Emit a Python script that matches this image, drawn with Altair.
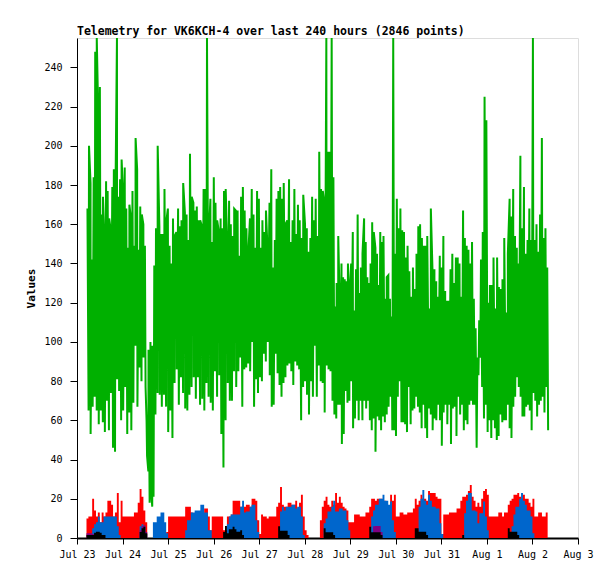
import altair as alt
import pandas as pd

title_text = "Telemetry for VK6KCH-4 over last 240 hours (2846 points)"
day_labels = ["Jul 23", "Jul 24", "Jul 25", "Jul 26", "Jul 27", "Jul 28",
              "Jul 29", "Jul 30", "Jul 31", "Aug 1", "Aug 2", "Aug 3"]
day_hours = [0, 24, 48, 72, 96, 120, 144, 168, 192, 216, 240, 264]
y_ticks = [0, 20, 40, 60, 80, 100, 120, 140, 160, 180, 200, 220, 240]

# ---- green series: peaks and troughs read per segment (hours since Jul 23 00:00)
green_segment_hours = [(5.3, 36.4), (36.4, 40.5), (40.5, 85.3),
                       (85.3, 134.9), (134.9, 166.4), (166.4, 248.5)]
green_hi_a = [168, 200, 181, 142, 184, 248, 255, 214, 230, 165, 174, 149, 182, 177, 163, 157, 179, 188, 172, 255,
              174, 183, 193, 174, 189, 168, 148, 170, 163, 177, 149, 204, 188, 147, 169, 165, 160, 149]
green_lo_a = [65, 53, 67, 72, 65, 58, 65, 59, 54, 70, 55, 74, 46, 44, 81, 75, 60, 65, 77, 53,
              64, 55, 69, 98, 67, 87, 80, 92, 77]
green_hi_dip = [60, 96, 100, 98]
green_lo_dip = [42, 34, 18, 25, 16, 21]
green_hi_b = [139, 158, 200, 159, 155, 155, 178, 161, 168, 149, 140, 163, 154, 156, 168, 159, 162, 181, 166, 165,
              152, 196, 174, 171, 167, 169, 162, 162, 159, 178, 178, 255, 152, 173, 151, 184, 171, 162, 156, 163,
              158, 177, 178, 146, 172, 160, 154, 168, 167, 167]
green_lo_b = [63, 74, 73, 67, 73, 67, 54, 65, 51, 79, 86, 68, 82, 74, 66, 65, 73, 77, 82, 71,
              82, 68, 71, 65, 79, 72, 69, 65, 85, 72, 83, 53, 36, 60, 79, 70, 70, 85, 77, 85]
green_hi_c1 = [144, 174, 179, 167, 158, 144, 163, 178, 165, 148, 177, 173, 148, 162, 156, 167, 145, 171, 188, 138,
               152, 173, 177, 179, 173, 181, 160, 162, 183, 151, 162, 178, 155, 170, 162, 153, 175, 160, 158, 146,
               153, 174, 162, 173, 154, 197, 178, 177, 170, 255, 197, 197, 255]
green_lo_c1 = [92, 67, 86, 87, 89, 85, 100, 67, 81, 74, 82, 80, 94, 90, 100, 83, 67, 68, 94, 84,
               78, 72, 79, 82, 88, 89, 85, 78, 90, 88, 86, 60, 77, 80, 73, 63, 80, 72, 98, 72,
               88, 80, 79, 64, 88, 86, 85, 70]
green_hi_c2 = [184, 118, 130, 154, 115, 140, 133, 132, 131, 140, 127, 140, 156, 116, 137, 165, 125, 138, 145, 163,
               151, 133, 130, 140, 161, 156, 148, 145, 129, 156, 151, 154, 122, 133, 134, 122, 113]
green_lo_c2 = [63, 61, 68, 68, 48, 53, 75, 69, 70, 80, 56, 61, 70, 60, 70, 60, 70, 66, 70, 60,
               55, 61, 44, 62, 60, 55, 62, 59, 63, 67, 72, 55]
green_hi_d = [255, 145, 173, 158, 168, 157, 156, 143, 149, 136, 123, 138, 127, 145, 159, 160, 153, 149, 149, 154,
              117, 168, 134, 137, 131, 123, 144, 138, 154, 126, 121, 121, 137, 145, 130, 143, 143, 140, 123, 167,
              153, 149, 147, 140, 151, 122, 107, 92, 111, 142, 156, 225, 213, 120, 129, 129, 143, 117, 143, 128,
              127, 132, 153, 115, 145, 173, 164, 178, 154, 148, 140, 195, 158, 179, 145, 152, 168, 152, 255, 152,
              160, 146, 165, 204, 153, 158, 138]
green_lo_d = [55, 52, 72, 80, 59, 59, 58, 54, 77, 58, 65, 66, 72, 67, 64, 56, 68, 56, 51, 66,
              63, 55, 61, 60, 68, 60, 47, 64, 68, 58, 68, 48, 66, 67, 52, 72, 63, 68, 55, 60,
              58, 68, 70, 68, 68, 46, 83, 92, 77, 61, 68, 54, 60, 51, 60, 56, 50, 52, 63, 59,
              60, 60, 68, 56, 51, 67, 72, 82, 77, 72, 62, 62, 67, 68, 65, 55, 74, 70, 62, 68,
              70, 72, 64, 77, 55]

# ---- hourly bottom series, first value at hour 5 after Jul 23 00:00
bottom_start_hour = 5
red_vals = [10, 11, 11, 20, 14, 11, 13, 8, 13, 11,
            13, 19, 19, 17, 11, 13, 23, 8, 19, 11,
            11, 11, 11, 11, 11, 13, 13, 18, 25, 21,
            14, 8, 0, 0, 0, 0, 0, 0, 0, 0,
            0, 0, 3, 11, 11, 11, 11, 11, 11, 11,
            11, 11, 16, 16, 16, 13, 11, 11, 11, 11,
            11, 11, 15, 15, 11, 4, 11, 11, 11, 11,
            11, 11, 4, 4, 11, 11, 12, 19, 19, 19,
            19, 16, 16, 16, 17, 17, 16, 20, 20, 19,
            9, 2, 12, 11, 11, 10, 11, 11, 11, 11,
            16, 18, 26, 17, 16, 16, 18, 18, 17, 17,
            19, 15, 18, 22, 11, 4, 1.5, 0, 0, 0,
            0, 0, 0, 9, 16, 19, 21, 17, 16, 19,
            17, 23, 18, 21, 18, 16, 15, 14, 8, 8,
            8, 12, 12, 12, 11, 11, 11, 13, 13, 16,
            20, 20, 19, 20, 20, 20, 19, 19, 16, 16,
            22, 19, 22, 11, 11, 13, 13, 12, 12, 13,
            13, 13, 15, 20, 17, 19, 22, 20, 20, 19,
            24, 23, 23, 23, 21, 20, 20, 2, 12, 12,
            12, 13, 13, 13, 13, 15, 15, 19, 21, 21,
            22, 24, 27, 21, 19, 16, 18, 16, 20, 24,
            25, 22, 11, 11, 11, 11, 11, 13, 13, 11,
            13, 13, 17, 19, 20, 22, 22, 23, 21, 20,
            22, 20, 20, 18, 16, 20, 11, 11, 13, 13,
            11, 11, 13, 10]
blue_vals = [0, 0, 2, 5, 7, 8, 11, 8, 8, 11,
             11, 11, 11, 11, 11, 11, 6, 1.5, 0, 0,
             0, 0, 0, 0, 0, 0, 0, 0, 6, 7,
             6, 2, 0, 0, 0, 8, 8, 11, 11, 13,
             13, 8, 2.4, 0, 0, 0, 0, 0, 0, 0,
             0, 0, 4, 9, 9, 13, 13, 14, 14, 14,
             17, 17, 13, 13, 4, 4, 0, 0, 0, 0,
             0, 0, 0, 0, 7, 11, 12, 12, 12, 12,
             12, 16, 19, 13, 13.5, 13.5, 16, 17, 17, 9,
             3, 0, 0, 0, 0, 0, 0, 0, 0, 0,
             0, 0, 13.5, 16, 14, 16, 16, 16, 17, 17,
             15, 16, 16, 11, 1.5, 0, 0, 0, 0, 0,
             0, 0, 0, 0, 0, 7.5, 10, 13.5, 13.5, 16,
             19, 13.5, 13.5, 15, 15, 14, 14, 9, 4, 0,
             0, 0, 0, 0, 0, 0, 0, 0, 0, 0,
             11, 14, 17, 17, 20, 20, 22, 19, 19, 17,
             18.6, 9, 3, 0, 0, 0, 0, 0, 0, 0,
             0, 0, 0, 0, 0, 16, 20, 24.5, 19, 17,
             22, 19, 16, 16, 15, 15, 7.5, 2, 0, 0,
             0, 0, 0, 0, 0, 0, 0, 0, 0, 12.6,
             19, 23, 23, 14, 14, 13.5, 7.5, 12.6, 12.6, 18.6,
             11, 4, 0, 0, 0, 0, 0, 0, 0, 0,
             0, 0, 0, 0, 6, 12, 16, 16, 20, 23,
             19, 17, 14, 14, 11, 2.4, 0, 0, 0, 0,
             0, 0, 0, 0]
black_vals = [1.5, 1.5, 1.5, 1.5, 2.7, 3.2, 3.2, 2.7, 1.5, 1.5,
              0, 0, 0, 0, 0, 0, 0, 0, 0, 0,
              0, 0, 0, 0, 0, 0, 0, 0, 3, 5,
              5.8, 2.4, 0, 0, 0, 0, 0, 0, 0, 0,
              0, 0, 0, 0, 0, 0, 0, 0, 0, 0,
              0, 0, 0, 0, 0, 0, 0, 0, 0, 0,
              0, 0, 0, 0, 0, 0, 0, 0, 0, 0,
              0, 0, 3, 6.1, 2.4, 4.4, 4.4, 5.8, 4.4, 3.2,
              3.2, 4, 1.5, 0, 0, 0, 0, 0, 0, 0,
              0, 0, 0, 0, 0, 0, 0, 0, 0, 0,
              0, 6, 3.7, 3.7, 3.7, 3.7, 1.5, 0, 0, 0,
              0, 0, 0, 0, 0, 0, 0, 0, 0, 0,
              0, 0, 0, 0, 0, 5, 2.9, 2.9, 2.9, 2.9,
              1.5, 0, 0, 0, 0, 0, 0, 0, 0, 0,
              0, 0, 0, 0, 0, 0, 0, 0, 0, 5.8,
              2.9, 2.9, 2.9, 2.9, 2.9, 1.5, 0, 0, 0, 0,
              0, 0, 0, 0, 0, 0, 0, 0, 0, 0,
              0, 0, 0, 5, 5, 3.2, 3.2, 3.2, 3.2, 1.5,
              0, 0, 0, 0, 0, 0, 0, 0, 0, 0,
              0, 0, 0, 0, 0, 0, 0, 0, 1.5, 0,
              0, 0, 0, 0, 0, 0, 0, 0, 0, 0,
              0, 0, 0, 0, 0, 0, 0, 0, 0, 0,
              0, 0, 5, 3.2, 3.2, 3.2, 3.2, 1.5, 0, 0,
              0, 0, 0, 0, 0, 0, 0, 0, 0, 0,
              0, 0, 0, 0]
purple_vals = [2.4, 2.4, 2.4, 2.0, 0, 0, 0, 0, 0, 0,
               0, 0, 0, 0, 0, 0, 0, 0, 0, 0,
               0, 0, 0, 0, 0, 0, 0, 0, 4, 6,
               6.5, 3, 0, 0, 0, 0, 0, 0, 0, 0,
               0, 0, 0, 0, 0, 0, 0, 0, 0, 0,
               0, 0, 0, 0, 0, 0, 0, 0, 0, 0,
               0, 0, 0, 0, 0, 0, 0, 0, 0, 0,
               0, 0, 0, 0, 0, 0, 0, 0, 0, 0,
               0, 0, 0, 0, 0, 0, 0, 0, 0, 0,
               0, 0, 0, 0, 0, 0, 0, 0, 0, 0,
               0, 0, 0, 0, 0, 0, 0, 0, 0, 0,
               0, 0, 0, 0, 0, 0, 0, 0, 0, 0,
               0, 0, 0, 0, 0, 0, 0, 0, 0, 0,
               0, 0, 0, 0, 0, 0, 0, 0, 0, 0,
               0, 0, 0, 0, 0, 0, 0, 0, 0, 0,
               0, 6, 6.1, 6.1, 6.1, 3, 0, 0, 0, 0,
               0, 0, 0, 0, 0, 0, 0, 0, 0, 0,
               0, 0, 0, 0, 0, 0, 0, 0, 0, 0,
               0, 0, 0, 0, 0, 0, 0, 0, 0, 0,
               0, 0, 0, 0, 0, 0, 0, 0, 0, 0,
               0, 0, 0, 0, 0, 0, 0, 0, 0, 0,
               0, 0, 0, 0, 0, 0, 0, 0, 0, 0,
               0, 0, 0, 0, 0, 0, 0, 0, 0, 0,
               0, 0, 0, 0, 0, 0, 0, 0, 0, 0,
               0, 0, 0, 0]

# ---- build tables
green_parts = [(green_hi_a, green_lo_a), (green_hi_dip, green_lo_dip), (green_hi_b, green_lo_b),
               (green_hi_c1, green_lo_c1), (green_hi_c2, green_lo_c2), (green_hi_d, green_lo_d)]
rows = []
for (t0, t1), (hi, lo) in zip(green_segment_hours, green_parts):
    for i, v in enumerate(hi):
        rows.append((t0 + (i + 0.25) * (t1 - t0) / len(hi), v))
    for j, v in enumerate(lo):
        rows.append((t0 + (j + 0.75) * (t1 - t0) / len(lo), v))
green_df = pd.DataFrame(rows, columns=["h", "v"]).sort_values("h").reset_index(drop=True)


def hourly(vals):
    return pd.DataFrame({"h": [bottom_start_hour + i for i in range(len(vals))], "v": vals})


MONO = "DejaVu Sans Mono"
label_expr = "[" + ",".join("'" + s + "'" for s in day_labels) + "][round(datum.value / 24)]"

x_enc = alt.X("h:Q", scale=alt.Scale(domain=[0, 264], nice=False, zero=False),
              axis=alt.Axis(values=day_hours, labelExpr=label_expr, title=None, grid=False,
                            tickSize=6, tickColor="black", domainColor="black", domainWidth=2,
                            labelFont=MONO, labelFontSize=10, labelColor="black",
                            labelPadding=5, labelFlush=False, labelOverlap=False))
y_enc = alt.Y("v:Q", scale=alt.Scale(domain=[0, 255], nice=False),
              axis=alt.Axis(values=y_ticks, title="Values", grid=False,
                            tickSize=7, tickColor="black", domainColor="black",
                            labelFont=MONO, labelFontSize=10, labelColor="black", labelPadding=8,
                            titleFont=MONO, titleFontSize=11, titleFontWeight="bold",
                            titleColor="black", titlePadding=7))

green = alt.Chart(green_df).mark_line(color="#00b000", strokeWidth=2, clip=True).encode(x=x_enc, y=y_enc)


def area(vals, color):
    return alt.Chart(hourly(vals)).mark_area(color=color, interpolate="step-after", opacity=1).encode(
        x=x_enc, y=y_enc)


chart = alt.layer(
    green,
    area(red_vals, "#ff0000"),
    area(blue_vals, "#0066cc"),
    area(purple_vals, "#800080"),
    area(black_vals, "#000000"),
).properties(
    width=501, height=500,
    title=alt.TitleParams(title_text, anchor="start", frame="group", font=MONO, fontSize=11.5,
                          fontWeight="bold", color="black", offset=3, dy=11, baseline="alphabetic"),
    autosize=alt.AutoSizeParams(type="none"),
    padding={"left": 69, "top": 30, "right": 29, "bottom": 33},
).configure_view(stroke="#444444", strokeWidth=1).configure(background="white")

chart.save("out.html", embed_options={"renderer": "svg", "actions": False})
